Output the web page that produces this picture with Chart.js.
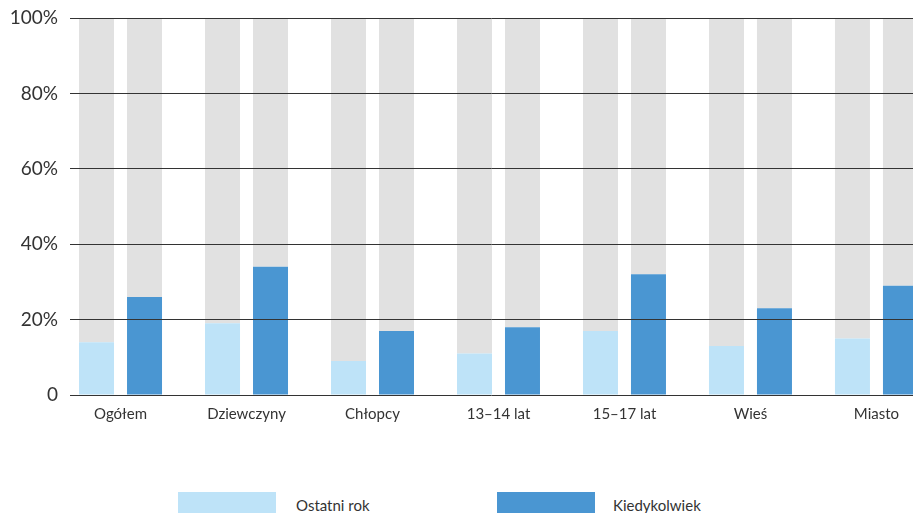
<!DOCTYPE html>
<html lang="pl">
<head>
<meta charset="UTF-8">
<title>Ostatni rok / Kiedykolwiek</title>
<script src="https://cdn.jsdelivr.net/npm/chart.js@4"></script>
<style>
  body { margin: 0; width: 913px; height: 513px; overflow: hidden; background: #fff; position: relative; font-family: Lato, sans-serif; }
  #wrap { position: absolute; left: 0; top: 0; width: 913px; height: 433px; }
  .item { position: absolute; top: 492px; height: 30px; }
  .box { position: absolute; left: 0; top: 0; width: 98px; height: 30px; }
  .lbl { position: absolute; top: 4px; font-size: 15px; color: #333; white-space: nowrap; }
</style>
</head>
<body>
<div id="wrap"><canvas id="chart"></canvas></div>
<div id="legend"></div>

<script>
// data
const categories = ['Ogółem', 'Dziewczyny', 'Chłopcy', '13–14 lat', '15–17 lat', 'Wieś', 'Miasto'];
const ostatniRok = [14, 19, 9, 11, 17, 13, 15];
const kiedykolwiek = [26, 34, 17, 18, 32, 23, 29];
const yTicks = [0, 20, 40, 60, 80, 100];

const seriesNames = ['Ostatni rok', 'Kiedykolwiek'];
const colors = ['#bee3f8', '#4a96d2'];
const grey = '#e1e1e1';

const points = arr => arr.map((v, i) => ({ x: i, y: v }));
const rest = arr => arr.map((v, i) => ({ x: i, y: 100 - v }));

const datasets = [
  { label: seriesNames[0], data: points(ostatniRok), backgroundColor: colors[0], stack: 'a' },
  { label: '', data: rest(ostatniRok), backgroundColor: grey, stack: 'a' },
  { label: seriesNames[1], data: points(kiedykolwiek), backgroundColor: colors[1], stack: 'b' },
  { label: '', data: rest(kiedykolwiek), backgroundColor: grey, stack: 'b' }
];

new Chart(document.getElementById('chart'), {
  type: 'bar',
  data: { datasets },
  options: {
    responsive: true,
    maintainAspectRatio: false,
    animation: false,
    layout: { padding: { top: 18, right: 0, bottom: 0, left: 0 } },
    plugins: { legend: { display: false }, tooltip: { enabled: false } },
    datasets: { bar: { categoryPercentage: 96 / 126, barPercentage: 35 / 48, borderWidth: 0 } },
    scales: {
      x: {
        type: 'linear',
        offset: false,
        min: -0.401,
        max: 6.29,
        grid: { display: false, drawTicks: false, offset: false },
        border: { display: false },
        afterBuildTicks: s => { s.ticks = categories.map((c, i) => ({ value: i })); },
        ticks: {
          padding: 10,
          color: '#333',
          font: { family: 'Lato', size: 15 },
          maxRotation: 0,
          autoSkip: false,
          callback: v => categories[v]
        }
      },
      y: {
        stacked: true,
        min: 0,
        max: 100,
        afterBuildTicks: s => { s.ticks = yTicks.map(v => ({ value: v })); },
        afterFit: s => { s.width = 70; s.paddingTop = 0; s.paddingBottom = 0; },
        grid: { color: '#333', lineWidth: 1, drawTicks: false, z: 1 },
        border: { display: false },
        ticks: {
          padding: 12,
          color: '#333',
          font: { family: 'Lato', size: 19 },
          callback: v => v === 0 ? '0' : v + '%'
        }
      }
    }
  }
});

// legend drawn as html below the chart
const legend = document.getElementById('legend');
const legendX = [178, 497];
seriesNames.forEach((name, i) => {
  const item = document.createElement('div');
  item.className = 'item';
  item.style.left = legendX[i] + 'px';
  item.innerHTML = '<div class="box" style="background:' + colors[i] + '"></div>' +
    '<div class="lbl" style="left:' + (i === 0 ? 118 : 116) + 'px">' + name + '</div>';
  legend.appendChild(item);
});
</script>
</body>
</html>
